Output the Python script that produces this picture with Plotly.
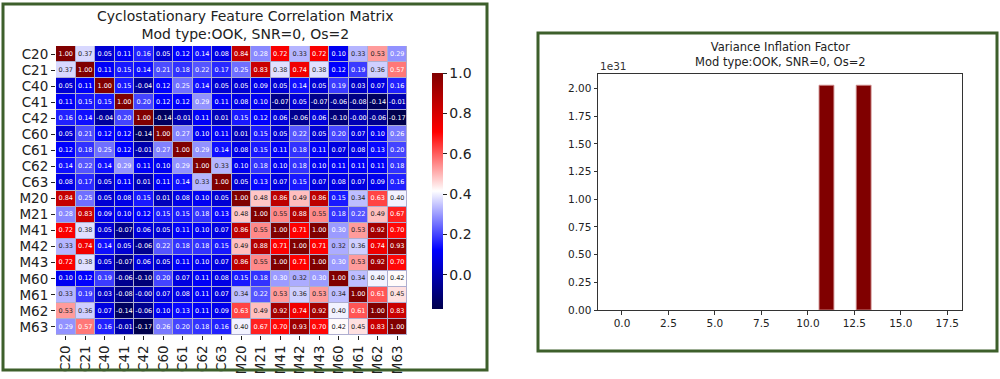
import plotly.graph_objects as go

features = ["C20", "C21", "C40", "C41", "C42", "C60", "C61", "C62", "C63",
            "M20", "M21", "M41", "M42", "M43", "M60", "M61", "M62", "M63"]

corr = [
    [1.00, 0.37, 0.05, 0.11, 0.16, 0.05, 0.12, 0.14, 0.08, 0.84, 0.28, 0.72, 0.33, 0.72, 0.10, 0.33, 0.53, 0.29],
    [0.37, 1.00, 0.11, 0.15, 0.14, 0.21, 0.18, 0.22, 0.17, 0.25, 0.83, 0.38, 0.74, 0.38, 0.12, 0.19, 0.36, 0.57],
    [0.05, 0.11, 1.00, 0.15, -0.04, 0.12, 0.25, 0.14, 0.05, 0.05, 0.09, 0.05, 0.14, 0.05, 0.19, 0.03, 0.07, 0.16],
    [0.11, 0.15, 0.15, 1.00, 0.20, 0.12, 0.12, 0.29, 0.11, 0.08, 0.10, -0.07, 0.05, -0.07, -0.06, -0.08, -0.14, -0.01],
    [0.16, 0.14, -0.04, 0.20, 1.00, -0.14, -0.01, 0.11, 0.01, 0.15, 0.12, 0.06, -0.06, 0.06, -0.10, -0.00, -0.06, -0.17],
    [0.05, 0.21, 0.12, 0.12, -0.14, 1.00, 0.27, 0.10, 0.11, 0.01, 0.15, 0.05, 0.22, 0.05, 0.20, 0.07, 0.10, 0.26],
    [0.12, 0.18, 0.25, 0.12, -0.01, 0.27, 1.00, 0.29, 0.14, 0.08, 0.15, 0.11, 0.18, 0.11, 0.07, 0.08, 0.13, 0.20],
    [0.14, 0.22, 0.14, 0.29, 0.11, 0.10, 0.29, 1.00, 0.33, 0.10, 0.18, 0.10, 0.18, 0.10, 0.11, 0.11, 0.11, 0.18],
    [0.08, 0.17, 0.05, 0.11, 0.01, 0.11, 0.14, 0.33, 1.00, 0.05, 0.13, 0.07, 0.15, 0.07, 0.08, 0.07, 0.09, 0.16],
    [0.84, 0.25, 0.05, 0.08, 0.15, 0.01, 0.08, 0.10, 0.05, 1.00, 0.48, 0.86, 0.49, 0.86, 0.15, 0.34, 0.63, 0.40],
    [0.28, 0.83, 0.09, 0.10, 0.12, 0.15, 0.15, 0.18, 0.13, 0.48, 1.00, 0.55, 0.88, 0.55, 0.18, 0.22, 0.49, 0.67],
    [0.72, 0.38, 0.05, -0.07, 0.06, 0.05, 0.11, 0.10, 0.07, 0.86, 0.55, 1.00, 0.71, 1.00, 0.30, 0.53, 0.92, 0.70],
    [0.33, 0.74, 0.14, 0.05, -0.06, 0.22, 0.18, 0.18, 0.15, 0.49, 0.88, 0.71, 1.00, 0.71, 0.32, 0.36, 0.74, 0.93],
    [0.72, 0.38, 0.05, -0.07, 0.06, 0.05, 0.11, 0.10, 0.07, 0.86, 0.55, 1.00, 0.71, 1.00, 0.30, 0.53, 0.92, 0.70],
    [0.10, 0.12, 0.19, -0.06, -0.10, 0.20, 0.07, 0.11, 0.08, 0.15, 0.18, 0.30, 0.32, 0.30, 1.00, 0.34, 0.40, 0.42],
    [0.33, 0.19, 0.03, -0.08, -0.00, 0.07, 0.08, 0.11, 0.07, 0.34, 0.22, 0.53, 0.36, 0.53, 0.34, 1.00, 0.61, 0.45],
    [0.53, 0.36, 0.07, -0.14, -0.06, 0.10, 0.13, 0.11, 0.09, 0.63, 0.49, 0.92, 0.74, 0.92, 0.40, 0.61, 1.00, 0.83],
    [0.29, 0.57, 0.16, -0.01, -0.17, 0.26, 0.20, 0.18, 0.16, 0.40, 0.67, 0.70, 0.93, 0.70, 0.42, 0.45, 0.83, 1.00],
]

vif_index = list(range(18))
vif_values = [0, 0, 0, 0, 0, 0, 0, 0, 0, 0, 0, 2.03e31, 0, 2.03e31, 0, 0, 0, 0]
vif_scale = 1e31

cb_ticks = [0.0, 0.2, 0.4, 0.6, 0.8, 1.0]
vif_yticks = [0.0, 0.25, 0.5, 0.75, 1.0, 1.25, 1.5, 1.75, 2.0]
vif_xticks = [0.0, 2.5, 5.0, 7.5, 10.0, 12.5, 15.0, 17.5]

# matplotlib "seismic" colormap
seismic = [(0.0, (0, 0, 0.3)), (0.25, (0, 0, 1)), (0.5, (1, 1, 1)), (0.75, (1, 0, 0)), (1.0, (0.5, 0, 0))]
colorscale = [[p, "rgb(%d,%d,%d)" % tuple(round(c * 255) for c in rgb)] for p, rgb in seismic]

zmin = min(min(r) for r in corr)
zmax = max(max(r) for r in corr)


def cmap(v):
    t = (v - zmin) / (zmax - zmin)
    for (p0, c0), (p1, c1) in zip(seismic[:-1], seismic[1:]):
        if t <= p1:
            f = (t - p0) / (p1 - p0)
            return [a + (b - a) * f for a, b in zip(c0, c1)]
    return list(seismic[-1][1])


def lum(rgb):
    lin = [c / 12.92 if c <= 0.03928 else ((c + 0.055) / 1.055) ** 2.4 for c in rgb]
    return 0.2126 * lin[0] + 0.7152 * lin[1] + 0.0722 * lin[2]


tx, ty, tt, tc = [], [], [], []
for i, row in enumerate(corr):
    for j, v in enumerate(row):
        tx.append(features[j])
        ty.append(features[i])
        tt.append(f"{v:.2f}")
        tc.append("#262626" if lum(cmap(v)) > 0.408 else "white")

W, H = 1000, 379
def px(x):
    return x / W
def py(y):
    return 1 - y / H

font = "DejaVu Sans"
n = len(features)
fig = go.Figure()

fig.add_trace(go.Heatmap(
    z=corr, x=features, y=features, colorscale=colorscale, zmin=zmin, zmax=zmax,
    xgap=1, ygap=1, hoverinfo="skip",
    colorbar=dict(x=px(432), xanchor="left", xpad=0, y=py(191), yanchor="middle", ypad=0,
                  thickness=11, len=236, lenmode="pixels", outlinewidth=0,
                  tickvals=cb_ticks, ticktext=[f"{t:.1f}" for t in cb_ticks],
                  ticks="outside", ticklen=4, tickcolor="#222",
                  tickfont=dict(size=14, color="#222", family=font)),
    xaxis="x", yaxis="y",
))
fig.add_trace(go.Scatter(
    x=tx, y=ty, text=tt, mode="text", textfont=dict(size=6.5, color=tc, family=font),
    hoverinfo="skip", showlegend=False, xaxis="x", yaxis="y",
))

fig.add_trace(go.Bar(
    x=vif_index, y=[v / vif_scale for v in vif_values], width=0.8,
    marker=dict(color="#800000",
                line=dict(color="rgba(205,140,140,0.9)", width=[1 if v > 0 else 0 for v in vif_values])),
    showlegend=False, xaxis="x2", yaxis="y2", hoverinfo="skip",
))

fig.update_layout(
    width=W, height=H, autosize=False, margin=dict(l=0, r=0, t=0, b=0, autoexpand=False),
    paper_bgcolor="white", plot_bgcolor="#aeaed0", showlegend=False,
    font=dict(family=font, color="#222"),
    xaxis=dict(domain=[px(56), px(407)], type="category", range=[-0.5, n - 0.5],
               showgrid=False, zeroline=False,
               tickmode="array", tickvals=features, ticktext=features,
               ticks="outside", ticklen=4, tickcolor="#222", tickangle=-90,
               tickfont=dict(size=13.5), anchor="y"),
    yaxis=dict(domain=[py(335), py(46)], type="category", range=[n - 0.5, -0.5],
               tickmode="array", tickvals=features, ticktext=features,
               showgrid=False, zeroline=False, ticks="outside", ticklen=4,
               tickcolor="#222", tickfont=dict(size=13.5), anchor="x"),
    xaxis2=dict(domain=[px(598), px(962)], range=[-1.29, 18.29], anchor="y2",
                tickvals=vif_xticks, ticktext=[f"{t:.1f}" for t in vif_xticks],
                ticks="outside", ticklen=3.5, tickcolor="#333", showline=True, linecolor="#333",
                mirror=True, showgrid=False, zeroline=False, tickfont=dict(size=10.5)),
    yaxis2=dict(domain=[py(310), py(74)], range=[0, 2.03 * 1.05], anchor="x2",
                tickvals=vif_yticks, ticktext=[f"{t:.2f}" for t in vif_yticks],
                ticks="outside", ticklen=3.5, tickcolor="#333", showline=True, linecolor="#333",
                mirror=True, showgrid=False, zeroline=False, tickfont=dict(size=10.5)),
)

# the two green frames and the white plot area behind the VIF chart
fig.add_shape(type="rect", xref="paper", yref="paper", x0=px(3), x1=px(487), y0=py(370), y1=py(4),
              line=dict(color="#3d5f2b", width=3), layer="above")
fig.add_shape(type="rect", xref="paper", yref="paper", x0=px(538), x1=px(997), y0=py(351), y1=py(33),
              line=dict(color="#3d5f2b", width=3), layer="above")
fig.add_shape(type="rect", xref="paper", yref="paper", x0=px(598), x1=px(962), y0=py(310), y1=py(74),
              line=dict(width=0), fillcolor="white", layer="below")

fig.add_annotation(text="Cyclostationary Feature Correlation Matrix<br>Mod type:OOK, SNR=0, Os=2",
                   x=px(245), y=py(25), xref="paper", yref="paper", showarrow=False,
                   xanchor="center", yanchor="middle",
                   font=dict(size=14, color="#222"), align="center")
fig.add_annotation(text="Variance Inflation Factor<br>Mod type:OOK, SNR=0, Os=2",
                   x=px(780), y=py(54), xref="paper", yref="paper", showarrow=False,
                   xanchor="center", yanchor="middle",
                   font=dict(size=11.5, color="#222"), align="center")
fig.add_annotation(text="1e31", x=px(598), y=py(66), xref="paper", yref="paper", showarrow=False,
                   xanchor="left", yanchor="middle", font=dict(size=10.5, color="#333"))

fig.write_html("out.html", config={"displayModeBar": False},
               post_script="document.body.style.margin='0';document.body.style.overflow='hidden';")
